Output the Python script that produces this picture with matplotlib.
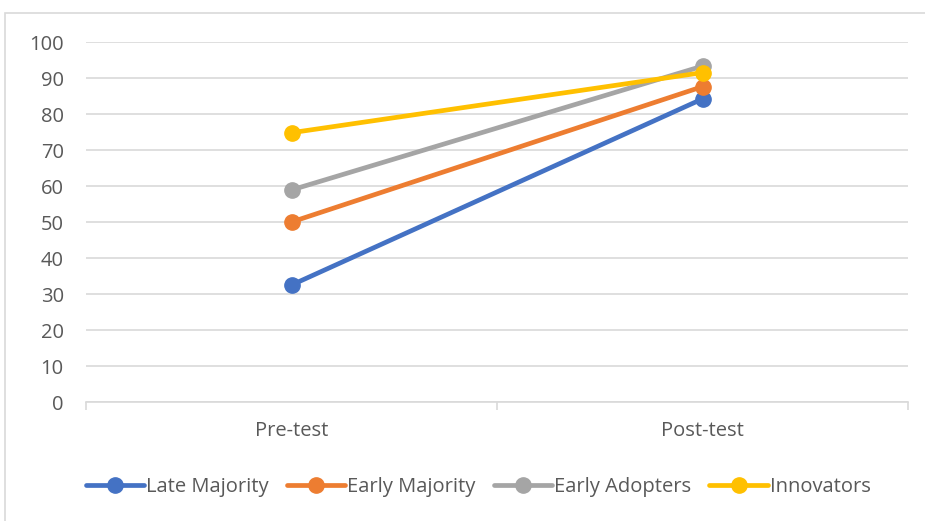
import matplotlib.pyplot as plt
from matplotlib.patches import Rectangle

# data
categories = ["Pre-test", "Post-test"]
late_majority = [32.5, 84.2]
early_majority = [50.0, 87.6]
early_adopters = [58.9, 93.3]
innovators = [74.8, 91.5]

series_names = ["Late Majority", "Early Majority", "Early Adopters", "Innovators"]
series_values = [late_majority, early_majority, early_adopters, innovators]
colors = ["#4472C4", "#ED7D31", "#A5A5A5", "#FFC000"]

plt.rcParams["font.family"] = ["Open Sans", "DejaVu Sans"]

fig = plt.figure(figsize=(9.25, 5.21), dpi=100)
ax = fig.add_axes([86 / 925, 1 - 402 / 521, (908 - 86) / 925, (402 - 42) / 521])

x = [0.5, 1.5]
for name, vals, c in zip(series_names, series_values, colors):
    ax.plot(x, vals, color=c, lw=3.4, marker="o", ms=11, label=name,
            solid_capstyle="round")

ax.set_xlim(0, 2)
ax.set_ylim(0, 100)
ax.set_yticks(range(0, 101, 10))
ax.yaxis.grid(True, color="#D9D9D9", lw=1.2)
ax.set_axisbelow(True)
ax.set_xticks(x)
ax.set_xticklabels(categories)
ax.set_xticks([0, 1, 2], minor=True)
ax.tick_params(axis="x", which="major", length=0, pad=14, labelsize=14.5, labelcolor="#595959")
ax.tick_params(axis="x", which="minor", length=6, color="#D9D9D9", width=1.2)
ax.tick_params(axis="y", length=0, pad=16, labelsize=14.5, labelcolor="#595959")
for s in ["top", "right", "left"]:
    ax.spines[s].set_visible(False)
ax.spines["bottom"].set_color("#D9D9D9")
ax.spines["bottom"].set_linewidth(1.2)

leg = fig.legend(loc="center", bbox_to_anchor=(0.517, 1 - 487 / 521), ncol=4,
                 frameon=False, fontsize=14.5, handlelength=2.9, handletextpad=0.1,
                 columnspacing=0.9, labelcolor="#595959")

# outer chart border
fig.patches.append(Rectangle((5 / 925, -0.05), 1.0, 1 - 13 / 521 + 0.05,
                             transform=fig.transFigure, fill=False,
                             edgecolor="#D9D9D9", lw=1.2))

fig.savefig("out.png", dpi=100)
